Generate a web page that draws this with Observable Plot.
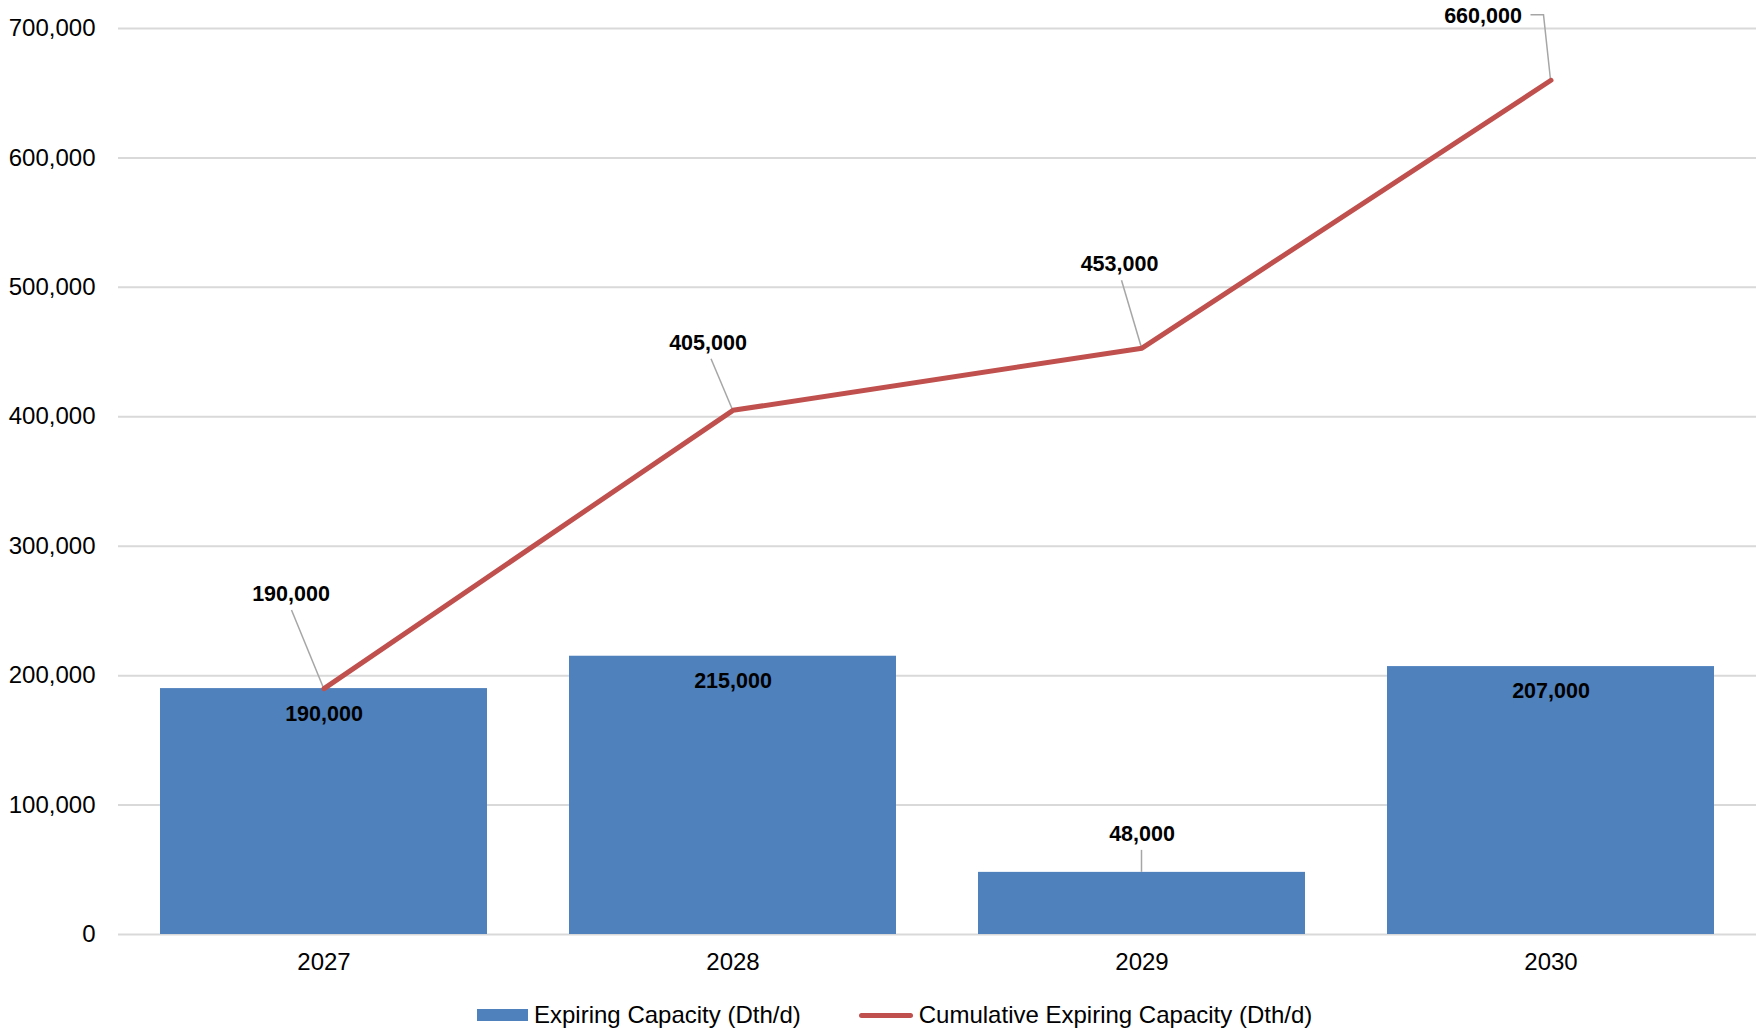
<!DOCTYPE html>
<html><head><meta charset="utf-8">
<script src="https://cdn.jsdelivr.net/npm/d3@7"></script>
<script src="https://cdn.jsdelivr.net/npm/@observablehq/plot@0.6"></script>
<style>
body{margin:0;background:#fff;font-family:"Liberation Sans",Arial,sans-serif;}
#legend{position:relative;height:40px;margin-top:5px;display:flex;align-items:center;padding-left:477px;font-size:24px;color:#000;}
#legend .sw{display:inline-block;}
</style></head><body>
<div id="chart"></div>
<div id="legend"></div>
<script>
// ---- data ----
const years = ["2027", "2028", "2029", "2030"];
const expiring = [190000, 215000, 48000, 207000];
const cumulative = [190000, 405000, 453000, 660000];
const yTicks = [0, 100000, 200000, 300000, 400000, 500000, 600000, 700000];
const seriesNames = ["Expiring Capacity (Dth/d)", "Cumulative Expiring Capacity (Dth/d)"];

// ---- styling ----
const barColor = "#4F81BD";
const lineColor = "#C0504D";
const gridColor = "#D9D9D9";
const leaderColor = "#A6A6A6";
const fmt = d3.format(",");
const lineLabelOffset = [[-33, -94.5], [-25, -67], [-22.5, -84], [-68, -64.5]];
const lineLeaders = [[[-32, -78], [0, 0]], [[-21.5, -51], [0, 0]], [[-20, -67.5], [0, 0]], [[-20, -65], [-7, -65], [0, 0]]];
const barLabelDy = [25.5, 25, -38.5, 25];
const barLeaders = [null, null, [[0, -22], [0, 0]], null];

const idx = years.map((d, i) => i);

function leaderMark(index, scales) {
  const x = scales.x, y = scales.y;
  const bw = x.bandwidth ? x.bandwidth() : 0;
  const g = d3.create("svg:g").attr("fill", "none").attr("stroke", leaderColor).attr("stroke-width", 1.5);
  idx.forEach(i => {
    const cx = x(years[i]) + bw / 2;
    const py = y(cumulative[i]);
    g.append("path").attr("d", d3.line()(lineLeaders[i].map(([dx, dy]) => [cx + dx, py + dy])));
    if (barLeaders[i]) {
      const by = y(expiring[i]);
      g.append("path").attr("d", d3.line()(barLeaders[i].map(([dx, dy]) => [cx + dx, by + dy])));
    }
  });
  return g.node();
}

const marks = [
  Plot.ruleY(yTicks, {stroke: gridColor, strokeWidth: 2}),
  Plot.axisY({ticks: yTicks, tickSize: 0, tickPadding: 23, tickFormat: fmt, fontSize: 24, label: null}),
  Plot.axisX({tickSize: 0, tickPadding: 18, fontSize: 24, label: null}),
  Plot.barY(idx, {x: i => years[i], y: i => expiring[i], fill: barColor}),
  leaderMark,
  Plot.line(idx, {x: i => years[i], y: i => cumulative[i], stroke: lineColor, strokeWidth: 5}),
];
idx.forEach(i => {
  marks.push(Plot.text([i], {x: i => years[i], y: i => cumulative[i], text: i => fmt(cumulative[i]),
    dx: lineLabelOffset[i][0], dy: lineLabelOffset[i][1], fontSize: 21.5, fontWeight: "bold", fill: "#000"}));
  marks.push(Plot.text([i], {x: i => years[i], y: i => expiring[i], text: i => fmt(expiring[i]),
    dy: barLabelDy[i], fontSize: 21.5, fontWeight: "bold", fill: "#000"}));
});

const chart = Plot.plot({
  width: 1759,
  height: 990,
  marginTop: 28,
  marginBottom: 56,
  marginLeft: 118,
  marginRight: 3,
  style: {fontFamily: "'Liberation Sans', Arial, sans-serif", fontSize: "24px", color: "#000", background: "#fff", overflow: "visible"},
  x: {type: "band", domain: years, paddingInner: 0.2, paddingOuter: 0.1, axis: null},
  y: {domain: [0, 700000], axis: null},
  marks
});
document.getElementById("chart").appendChild(chart);

const legend = d3.select("#legend");
const item1 = legend.append("span").style("display", "flex").style("align-items", "center");
item1.append("span").attr("class", "sw").style("width", "51px").style("height", "12px").style("background", barColor).style("margin-right", "6px");
item1.append("span").text(seriesNames[0]);
const item2 = legend.append("span").style("display", "flex").style("align-items", "center").style("margin-left", "58px");
item2.append("span").attr("class", "sw").style("width", "54px").style("height", "5px").style("border-radius", "3px").style("background", lineColor).style("margin-right", "6px");
item2.append("span").text(seriesNames[1]);
</script>
</body></html>
